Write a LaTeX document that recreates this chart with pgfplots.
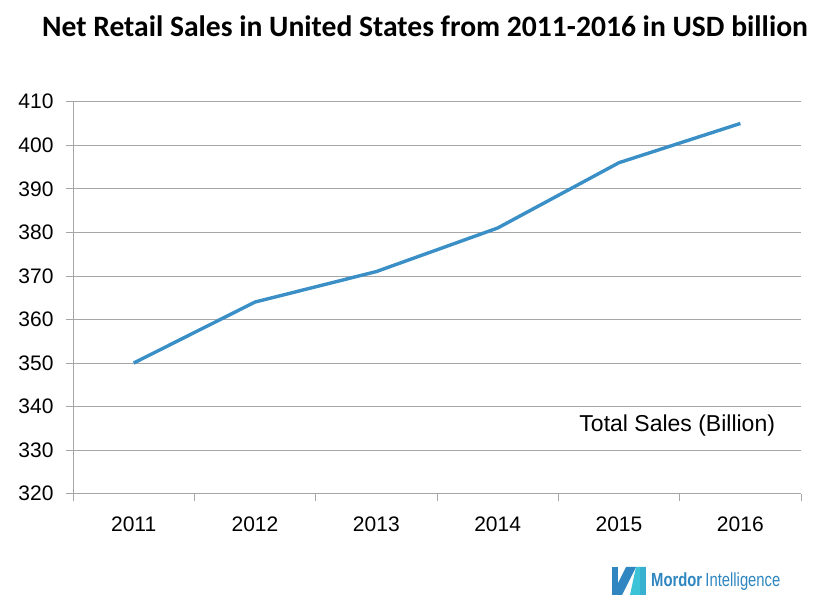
\documentclass[border=0pt]{standalone}
\usepackage{pgfplots}
\pgfplotsset{compat=1.18}
\usepackage{fontspec}
\setmainfont{Liberation Sans}
\newfontfamily\titlefont{Carlito}
\newfontfamily\narrowfont[FakeStretch=0.78]{Liberation Sans}
\definecolor{lineblue}{HTML}{3A8FC6}
\definecolor{gridgray}{HTML}{A6A6A6}
\definecolor{logoblue}{HTML}{2F86C0}
\definecolor{logocyan}{HTML}{3CC3D8}
\begin{document}
\begin{tikzpicture}[x=1pt,y=1pt]
\path[use as bounding box, fill=white] (0,0) rectangle (830,597);
\begin{axis}[
  at={(73pt,103.3pt)}, anchor=south west,
  scale only axis, width=728pt, height=392pt,
  xmin=-0.5, xmax=5.5, ymin=320, ymax=410,
  ytick={320,330,...,410},
  xtick={-0.5,0.5,1.5,2.5,3.5,4.5,5.5},
  x tick label as interval,
  xticklabels={2011,2012,2013,2014,2015,2016},
  ymajorgrids, xmajorgrids=false,
  grid style={gridgray, line width=0.8pt},
  axis x line*=bottom, axis y line*=left,
  axis line style={gridgray, line width=0.8pt},
  tick style={gridgray, line width=0.8pt},
  major tick length=7pt,
  tick align=outside,
  ticklabel style={font=\fontsize{21}{23}\selectfont, text=black},
  /pgf/number format/assume math mode=true,
  yticklabel style={xshift=-9pt},
  xticklabel style={yshift=-13pt},
  clip=false,
]
\addplot[lineblue, line width=3.4pt] coordinates {
  (0,350) (1,364) (2,371) (3,381) (4,396) (5,405)
};
\node[font=\fontsize{23}{25}\selectfont] at (axis cs:4.48,335.6) {Total Sales (Billion)};
\end{axis}
\node[anchor=base, font=\titlefont\bfseries\fontsize{29.6}{32}\selectfont] at (425,560.3) {Net Retail Sales in United States from 2011-2016 in USD billion};
\node[anchor=west, text=logoblue, font=\narrowfont\fontsize{19}{21}\selectfont, inner sep=0pt] at (651,15) {\textbf{Mordor}\,Intelligence};
\fill[logoblue] (612,2) -- (622,2) -- (636,30) -- (626,30) -- cycle;
\fill[logoblue] (612,2) -- (618,2) -- (618,30) -- (612,30) -- cycle;
\fill[logocyan] (630,2) -- (640,2) -- (646,30) -- (636,30) -- cycle;
\fill[logocyan!70!logoblue] (640,2) -- (646,2) -- (646,30) -- (640,30) -- cycle;
\end{tikzpicture}
\end{document}
